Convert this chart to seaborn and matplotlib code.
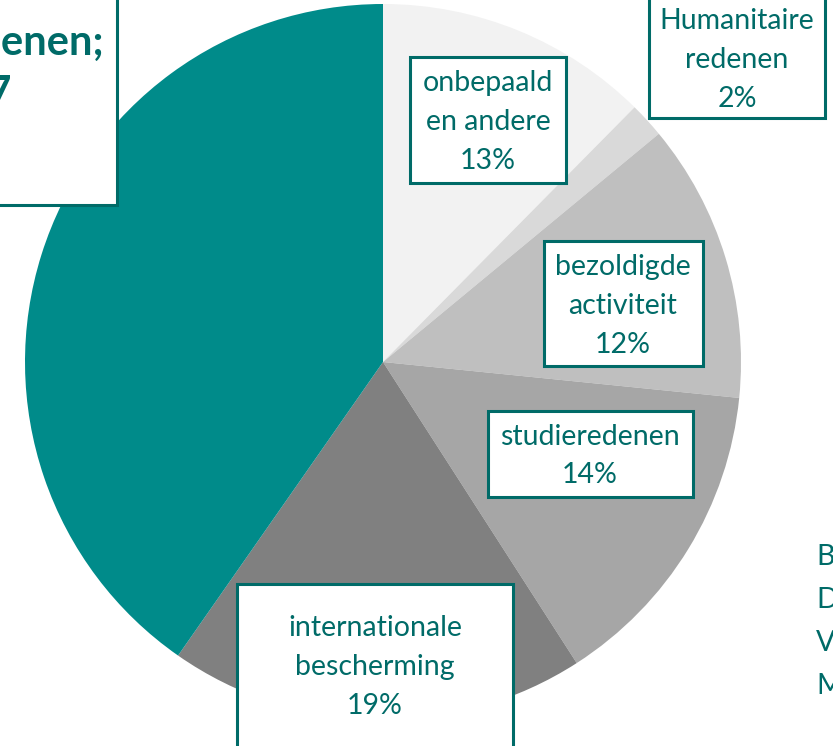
import matplotlib
matplotlib.use("Agg")
import matplotlib.pyplot as plt
from matplotlib.patches import Rectangle
import seaborn as sns

# --- DATA ---
categories = ['onbepaald en andere', 'Humanitaire redenen', 'bezoldigde activiteit',
              'studieredenen', 'internationale bescherming', 'gezinsredenen']
shares = [12.4, 1.6, 12.6, 14.3, 18.8, 40.3]
label_texts = ['onbepaald\nen andere\n13%', 'Humanitaire\nredenen\n2%',
               'bezoldigde\nactiviteit\n12%', 'studieredenen\n14%',
               'internationale\nbescherming\n19%']
title_lines = ['Eerste verblijfstitels naar redenen;', '2017']
source_lines = ['Bron:', 'DVZ', 'Verwerking:', 'Myria']

# --- STYLE ---
TEAL = '#008B8A'
DARK_TEAL = '#006B68'
slice_colors = sns.color_palette(['#F2F2F2', '#D9D9D9', '#BFBFBF', '#A6A6A6', '#808080', TEAL])

sns.set_style('white')
plt.rcParams['font.family'] = ['Lato', 'DejaVu Sans']

fig = plt.figure(figsize=(8.33, 7.46), dpi=100)
ax = fig.add_axes([0, 0, 1, 1])

# pixel coordinates, y pointing down
ax.pie(shares, colors=slice_colors, center=(383, 362), radius=358,
       startangle=-90, counterclock=True, frame=True,
       wedgeprops=dict(linewidth=0))
ax.set_xlim(0, 833)
ax.set_ylim(746, 0)
ax.set_aspect('equal')
ax.axis('off')

# label boxes: (x0, y0, x1, y1) in pixels, text centre
boxes = [
    ((410, 57, 566, 183), (488, 122)),
    ((649, -20, 825, 118), (737, 60)),
    ((544, 241, 703, 366), (623, 306)),
    ((488, 411, 693, 497), (590, 456)),
    ((237, 584, 513, 780), (375, 667)),
]
for (x0, y0, x1, y1), (tx, ty), txt in zip([b[0] for b in boxes], [b[1] for b in boxes], label_texts):
    ax.add_patch(Rectangle((x0, y0), x1 - x0, y1 - y0, facecolor='white',
                           edgecolor=DARK_TEAL, linewidth=2.2, zorder=3))
    ax.text(tx, ty, txt, ha='center', va='center', fontsize=20.5,
            color=DARK_TEAL, linespacing=1.6, zorder=4)

# title box (partly outside the canvas)
ax.add_patch(Rectangle((-40, -40), 157, 245, facecolor='white',
                       edgecolor=DARK_TEAL, linewidth=2.2, zorder=3))
ax.text(104, 55, title_lines[0], ha='right', va='baseline', fontsize=30,
        fontweight='bold', color=DARK_TEAL, zorder=4)
ax.text(12, 106, title_lines[1], ha='right', va='baseline', fontsize=30,
        fontweight='bold', color=DARK_TEAL, zorder=4)

# source note on the right (cut off by the canvas)
for i, line in enumerate(source_lines):
    ax.text(816, 557 + i * 43, line, ha='left', va='center', fontsize=20.5,
            color=DARK_TEAL, zorder=4)

fig.savefig('out.png', dpi=100)
